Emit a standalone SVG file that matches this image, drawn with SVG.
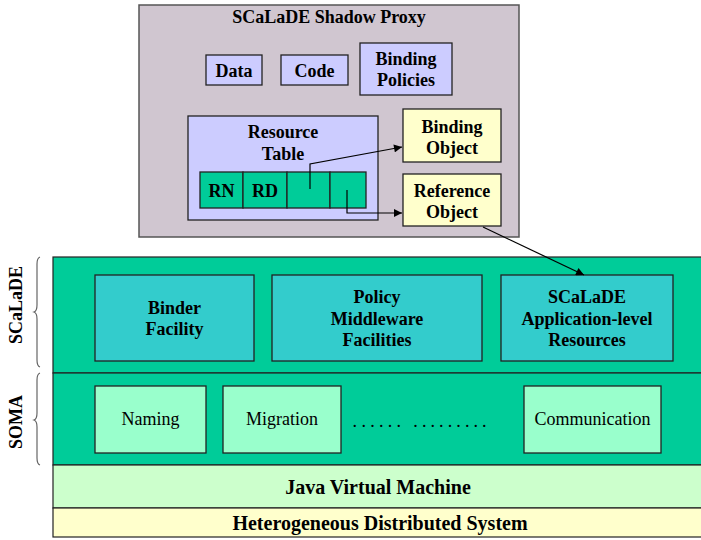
<svg xmlns="http://www.w3.org/2000/svg" width="701" height="540" viewBox="0 0 701 540">
<style>
  text { font-family: "Liberation Serif", "Times New Roman", serif; font-size: 18px; fill: #000; text-anchor: middle; }
  .b { font-weight: bold; }
  .big { font-size: 20px; }
  .box { stroke: #222; stroke-width: 1.3; }
  .proxy { fill: #D0C6D0; stroke: #555; stroke-width: 1.5; }
  .lav { fill: #CCCCFF; }
  .yel { fill: #FFFFCC; }
  .grn { fill: #00CC99; }
  .teal { fill: #33CCCC; }
  .mint { fill: #99FFCC; }
  .jvm { fill: #CCFFCC; }
  .layer { stroke: #222; stroke-width: 1.2; }
  .conn { fill: none; stroke: #000; stroke-width: 1.2; }
  .brace { fill: none; stroke: #666; stroke-width: 1.2; }
</style>
<defs>
  <marker id="ah" viewBox="0 0 10 10" refX="10" refY="5" markerWidth="9" markerHeight="8" markerUnits="userSpaceOnUse" orient="auto">
    <path d="M0,0 L10,5 L0,10 z" fill="#000"/>
  </marker>
</defs>

<!-- Layers -->
<g id="layer-scalade">
  <rect class="layer grn" x="53" y="257" width="660" height="116"/>
</g>
<g id="layer-soma">
  <rect class="layer grn" x="53" y="373" width="660" height="92"/>
</g>
<g id="layer-jvm">
  <rect class="layer jvm" x="53" y="465" width="660" height="43"/>
  <text class="b big" x="378" y="494">Java Virtual Machine</text>
</g>
<g id="layer-hds">
  <rect class="layer yel" x="53" y="508" width="660" height="29"/>
  <text class="b big" x="380" y="530">Heterogeneous Distributed System</text>
</g>

<!-- Side labels -->
<g id="label-scalade">
  <path class="brace" d="M40,257 Q37,258 37,264 L37,305 Q37,311 34,312 Q37,313 37,319 L37,360 Q37,366 40,367"/>
  <text class="b" transform="translate(22,305) rotate(-90)">SCaLaDE</text>
</g>
<g id="label-soma">
  <path class="brace" d="M40,373 Q37,374 37,380 L37,413 Q37,419 34,420 Q37,421 37,427 L37,458 Q37,464 40,465"/>
  <text class="b" transform="translate(22,422) rotate(-90)">SOMA</text>
</g>

<!-- SCaLaDE boxes -->
<g id="binder">
  <rect class="box teal" x="95" y="275" width="159" height="86"/>
  <text class="b" x="174.5" y="314">Binder</text>
  <text class="b" x="174.5" y="335">Facility</text>
</g>
<g id="policy">
  <rect class="box teal" x="272" y="275" width="210" height="86"/>
  <text class="b" x="377" y="303">Policy</text>
  <text class="b" x="377" y="325">Middleware</text>
  <text class="b" x="377" y="346">Facilities</text>
</g>
<g id="appres">
  <rect class="box teal" x="501" y="275" width="172" height="86"/>
  <text class="b" x="587" y="303">SCaLaDE</text>
  <text class="b" x="587" y="325">Application-level</text>
  <text class="b" x="587" y="346">Resources</text>
</g>

<!-- SOMA boxes -->
<g id="naming">
  <rect class="box mint" x="95" y="386" width="111" height="67"/>
  <text x="150.5" y="425">Naming</text>
</g>
<g id="migration">
  <rect class="box mint" x="223" y="386" width="118" height="67"/>
  <text x="282" y="425">Migration</text>
</g>
<g id="dots">
  <text x="379" y="427" style="letter-spacing:4.3px">......</text>
  <text x="452" y="427" style="letter-spacing:4.1px">.........</text>
</g>
<g id="communication">
  <rect class="box mint" x="524" y="386" width="137" height="67"/>
  <text x="592.5" y="425">Communication</text>
</g>

<!-- Shadow Proxy -->
<g id="proxy">
  <rect class="proxy" x="139" y="5" width="380" height="232"/>
  <text class="b" x="329" y="23">SCaLaDE Shadow Proxy</text>
</g>
<g id="data">
  <rect class="box lav" x="206" y="55" width="56" height="30"/>
  <text class="b" x="234" y="77">Data</text>
</g>
<g id="code">
  <rect class="box lav" x="281" y="55" width="67" height="30"/>
  <text class="b" x="314.5" y="77">Code</text>
</g>
<g id="bpolicies">
  <rect class="box lav" x="360" y="43" width="92" height="52"/>
  <text class="b" x="406" y="65">Binding</text>
  <text class="b" x="406" y="86">Policies</text>
</g>
<g id="rtable">
  <rect class="box lav" x="188" y="116" width="190" height="104"/>
  <text class="b" x="283" y="138">Resource</text>
  <text class="b" x="283" y="160">Table</text>
  <rect class="box grn" x="200" y="172" width="43" height="36"/>
  <rect class="box grn" x="243" y="172" width="44" height="36"/>
  <rect class="box grn" x="287" y="172" width="43" height="36"/>
  <rect class="box grn" x="330" y="172" width="36" height="36"/>
  <text class="b" x="221.5" y="197">RN</text>
  <text class="b" x="265" y="197">RD</text>
</g>
<g id="bobject">
  <rect class="box yel" x="403" y="109" width="98" height="53"/>
  <text class="b" x="452" y="133">Binding</text>
  <text class="b" x="452" y="154">Object</text>
</g>
<g id="robject">
  <rect class="box yel" x="403" y="174" width="98" height="52"/>
  <text class="b" x="452" y="197">Reference</text>
  <text class="b" x="452" y="218">Object</text>
</g>

<!-- Connectors -->
<g id="connectors">
  <polyline class="conn" points="310,189 310,164 402,147" marker-end="url(#ah)"/>
  <polyline class="conn" points="347,190 347,213 402,213" marker-end="url(#ah)"/>
  <line class="conn" x1="483" y1="227" x2="584" y2="275" marker-end="url(#ah)"/>
</g>
</svg>
